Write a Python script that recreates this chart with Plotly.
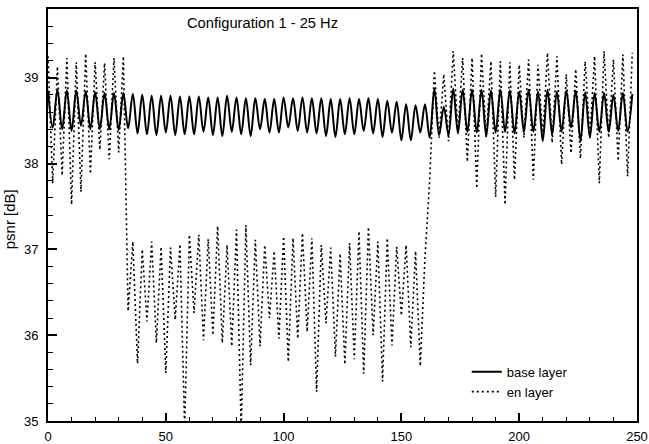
import plotly.graph_objects as go

frames = list(range(0, 250, 2))

base_layer = [
    38.85, 38.42, 38.86, 38.40, 38.85, 38.38, 38.85, 38.44, 38.84, 38.40,
    38.83, 38.40, 38.82, 38.40, 38.82, 38.39, 38.82, 38.41, 38.81, 38.35,
    38.80, 38.34, 38.79, 38.33, 38.79, 38.36, 38.79, 38.33, 38.78, 38.34,
    38.78, 38.34, 38.78, 38.37, 38.77, 38.33, 38.77, 38.32, 38.79, 38.37,
    38.77, 38.34, 38.76, 38.32, 38.76, 38.40, 38.75, 38.36, 38.75, 38.36,
    38.77, 38.42, 38.76, 38.38, 38.77, 38.36, 38.76, 38.35, 38.76, 38.32,
    38.75, 38.31, 38.75, 38.34, 38.76, 38.34, 38.75, 38.38, 38.76, 38.35,
    38.75, 38.31, 38.73, 38.36, 38.72, 38.27, 38.69, 38.27, 38.68, 38.36,
    38.69, 38.30, 38.87, 38.33, 38.66, 38.33, 38.87, 38.35, 38.86, 38.37,
    38.86, 38.36, 38.86, 38.32, 38.85, 38.36, 38.86, 38.37, 38.85, 38.35,
    38.84, 38.37, 38.86, 38.37, 38.84, 38.26, 38.86, 38.34, 38.84, 38.37,
    38.85, 38.42, 38.85, 38.26, 38.83, 38.30, 38.82, 38.37, 38.82, 38.37,
    38.80, 38.38, 38.82, 38.37, 38.81,
]

en_layer = [
    39.25, 37.77, 39.13, 37.86, 39.23, 37.52, 39.18, 37.67, 39.28, 37.88,
    39.18, 38.16, 39.17, 38.05, 39.23, 38.13, 39.25, 36.28, 37.09, 35.67,
    37.00, 36.16, 37.09, 35.91, 37.03, 35.56, 37.02, 36.18, 37.06, 34.90,
    37.17, 36.26, 37.17, 35.94, 37.12, 36.00, 37.27, 35.91, 37.05, 35.87,
    37.23, 34.90, 37.28, 35.65, 37.11, 35.87, 37.05, 36.20, 36.98, 35.96,
    37.15, 35.69, 37.13, 35.96, 37.19, 36.04, 37.13, 35.34, 37.05, 36.14,
    37.02, 35.75, 36.95, 35.66, 37.07, 35.72, 37.21, 35.55, 37.26, 36.00,
    37.09, 35.46, 37.13, 35.88, 37.03, 36.23, 37.05, 35.86, 36.98, 35.64,
    36.90, 37.80, 39.08, 38.30, 39.04, 38.26, 39.31, 38.35, 39.23, 38.02,
    39.23, 37.71, 39.28, 38.30, 39.19, 37.61, 39.19, 37.52, 39.18, 37.81,
    39.15, 38.30, 39.21, 37.81, 39.15, 38.30, 39.29, 38.24, 39.25, 37.99,
    39.04, 38.12, 39.10, 38.06, 39.19, 38.30, 39.25, 37.77, 39.31, 38.30,
    39.21, 38.03, 39.27, 37.85, 39.29,
]

x_ticks = [0, 50, 100, 150, 200, 250]
y_ticks = [35, 36, 37, 38, 39]

FONT = "Liberation Sans, Arial, Helvetica, sans-serif"

fig = go.Figure()
fig.add_trace(go.Scatter(
    x=frames, y=base_layer, mode="lines", name="base layer",
    line=dict(color="black", width=2, shape="spline", smoothing=1.0),
))
fig.add_trace(go.Scatter(
    x=frames, y=en_layer, mode="lines", name="en layer",
    line=dict(color="black", width=1.6, dash="2px,3px"),
))

axis_common = dict(
    showgrid=False, zeroline=False, automargin=False,
    showline=True, linecolor="black", linewidth=2, mirror=True,
    ticks="inside", tickcolor="black", tickwidth=2,
    tickfont=dict(family=FONT, size=13, color="black"),
)

fig.update_xaxes(
    range=[0, 250], tickvals=x_ticks, ticklen=8, ticklabelstandoff=2,
    minor=dict(dtick=10, ticks="inside", ticklen=4, tickwidth=1, tickcolor="black"),
    **axis_common,
)
fig.update_yaxes(
    range=[35, 39.8], tickvals=y_ticks, ticklen=9, ticklabelstandoff=5,
    minor=dict(dtick=0.2, ticks="inside", ticklen=5, tickwidth=1, tickcolor="black"),
    **axis_common,
)

fig.update_layout(
    width=649, height=444, autosize=False,
    margin=dict(l=48, r=12, t=9, b=23),
    paper_bgcolor="white", plot_bgcolor="white",
    font=dict(family=FONT, size=13, color="black"),
    showlegend=True,
    legend=dict(
        x=0.711, y=0.156, xanchor="left", yanchor="top",
        bgcolor="rgba(0,0,0,0)", borderwidth=0,
        font=dict(family=FONT, size=13, color="black"),
        tracegroupgap=0,
    ),
    annotations=[
        dict(text="Configuration 1 - 25 Hz", xref="paper", yref="paper",
             x=0.365, y=0.966, showarrow=False, xanchor="center", yanchor="middle",
             font=dict(family=FONT, size=14.7, color="black")),
        dict(text="psnr [dB]", xref="paper", yref="paper",
             x=-0.066, y=0.49, showarrow=False, textangle=-90,
             xanchor="center", yanchor="middle",
             font=dict(family=FONT, size=15, color="black")),
    ],
)

fig.write_html("out.html", config={"displayModeBar": False},
               post_script="document.body.style.margin='0';")
